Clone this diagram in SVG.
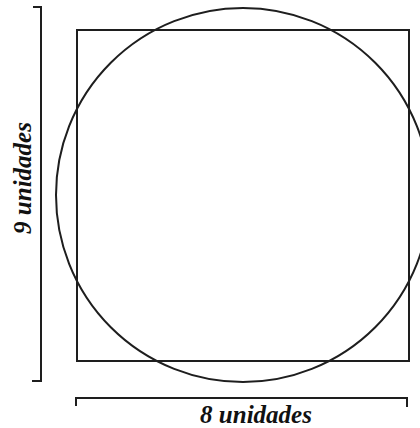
<svg xmlns="http://www.w3.org/2000/svg" width="420" height="428" viewBox="0 0 420 428">
<style>
.ln{fill:none;stroke:#1e1e1e;stroke-width:2;stroke-linecap:square;stroke-linejoin:miter}
.lbl{font-family:"Liberation Serif","Times New Roman",serif;font-style:italic;font-weight:bold;font-size:25px;fill:#111}
</style>
<rect width="420" height="428" fill="#fff"/>
<g id="square"><rect class="ln" x="77" y="30" width="332" height="331"/></g>
<g id="circle"><circle class="ln" cx="243" cy="195" r="187"/></g>
<g id="connectors">
<path id="height-bracket" class="ln" d="M34,7 H41 V381 H33"/>
<path id="width-bracket" class="ln" d="M76,405 V398 H407 V406"/>
</g>
<g id="label-height"><text class="lbl" x="0" y="0" text-anchor="middle" transform="translate(31,178) rotate(-90)">9 unidades</text></g>
<g id="label-width"><text class="lbl" x="256" y="423" text-anchor="middle">8 unidades</text></g>
</svg>
